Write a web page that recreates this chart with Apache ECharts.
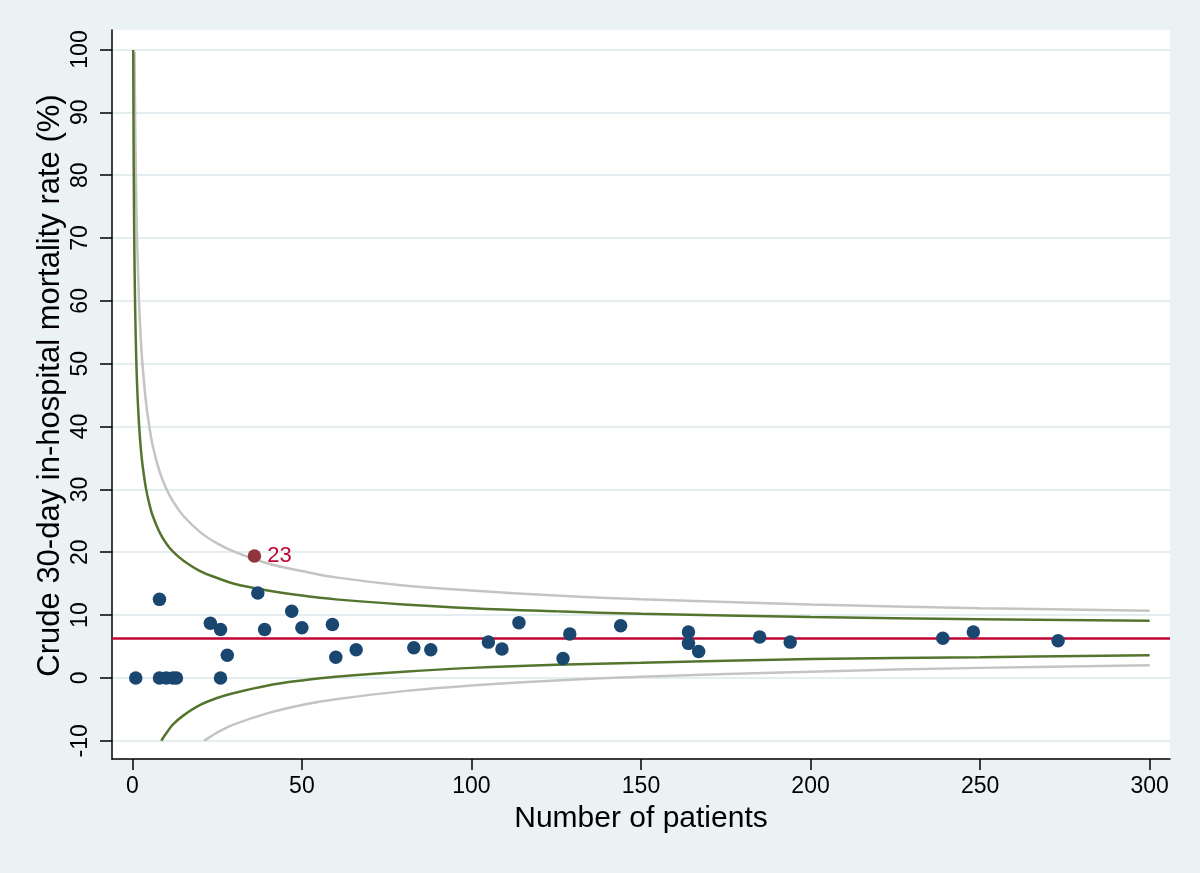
<!DOCTYPE html>
<html><head><meta charset="utf-8">
<script src="https://cdn.jsdelivr.net/npm/echarts@6/dist/echarts.min.js"></script>
<style>html,body{margin:0;padding:0;background:#eaf2f3;} #c{width:1200px;height:873px;}</style>
</head><body><div id="c"></div>
<script>
// ---- data ----
const xTicks = [0, 50, 100, 150, 200, 250, 300];
const yTicks = [-10, 0, 10, 20, 30, 40, 50, 60, 70, 80, 90, 100];
const xTitle = 'Number of patients';
const yTitle = 'Crude 30-day in-hospital mortality rate (%)';

const hospitalPatients = [1, 8, 10, 12, 13, 8, 23, 26, 26, 28, 37, 39, 47, 50, 59, 60, 66, 83, 88,
  105, 109, 114, 127, 129, 144, 164, 164, 167, 185, 194, 239, 248, 273];
const hospitalRates = [0, 0, 0, 0, 0, 12.5, 8.7, 7.7, 0, 3.6, 13.5, 7.7, 10.6, 8.0, 8.5, 3.3, 4.5, 4.8, 4.5,
  5.7, 4.6, 8.8, 3.1, 7.0, 8.3, 7.3, 5.5, 4.2, 6.5, 5.7, 6.3, 7.3, 5.9];

const outlierPatients = [36];
const outlierRates = [19.4];
const outlierLabels = ['23'];

const meanRate = 6.33;

const limit95Upper = [[0.26, 99.9], [0.3, 93.5], [0.35, 87.0], [0.4, 81.8], [0.5, 73.8], [0.6, 67.9],
  [0.75, 61.4], [1, 54.1], [1.25, 49.0], [1.5, 45.3], [2, 40.1], [2.5, 36.5], [3, 33.9], [4, 30.2],
  [5, 27.7], [6, 25.8], [8, 23.2], [10, 21.4], [12, 20.1], [15, 18.7], [20, 17.0], [25, 15.9],
  [30, 15.0], [40, 13.9], [50, 13.1], [60, 12.5], [80, 11.7], [100, 11.1], [125, 10.6], [150, 10.2],
  [200, 9.7], [250, 9.35], [300, 9.1]];
const limit95Lower = [[8.54, -10.0], [8.7, -9.85], [9, -9.6], [10, -8.8], [12, -7.4], [15, -6.0],
  [20, -4.3], [25, -3.2], [30, -2.4], [40, -1.2], [50, -0.4], [60, 0.2], [80, 1.0], [100, 1.6],
  [125, 2.1], [150, 2.4], [200, 3.0], [250, 3.3], [300, 3.6]];
const limit998Upper = [[0.65, 99.6], [0.7, 96.3], [0.8, 90.5], [0.9, 85.6], [1, 81.6], [1.25, 73.6],
  [1.5, 67.8], [2, 59.5], [2.5, 53.9], [3, 49.8], [4, 44.0], [5, 40.0], [6, 37.0], [8, 32.9],
  [10, 30.1], [12, 28.1], [15, 25.8], [20, 23.2], [25, 21.4], [30, 20.1], [40, 18.2], [50, 17.0],
  [60, 16.0], [80, 14.7], [100, 13.9], [125, 13.1], [150, 12.5], [200, 11.7], [250, 11.1], [300, 10.7]];
const limit998Lower = [[21.2, -10.0], [22, -9.7], [25, -8.7], [30, -7.4], [40, -5.6], [50, -4.3],
  [60, -3.4], [80, -2.1], [100, -1.2], [125, -0.4], [150, 0.2], [200, 1.0], [250, 1.6], [300, 2.0]];

// ---- chart ----
const FONT = 'Liberation Sans, Arial, Helvetica, sans-serif';
const chart = echarts.init(document.getElementById('c'), null, {renderer: 'canvas'});

const lineSeries = (data, color, z) => ({
  type: 'line', data, showSymbol: false, symbol: 'none', smooth: 0.4,
  lineStyle: {color, width: 2.5}, silent: true, z, animation: false
});

chart.setOption({
  animation: false,
  backgroundColor: '#eaf2f3',
  grid: {left: 112, right: 30, top: 30, bottom: 114, show: true, backgroundColor: '#ffffff',
         borderWidth: 0, containLabel: false, outerBoundsMode: 'none'},
  xAxis: {
    type: 'value', min: -6, max: 306,
    name: xTitle, nameLocation: 'middle', nameGap: 45, nameMoveOverlap: false,
    nameTextStyle: {fontFamily: FONT, fontSize: 30, color: '#000'},
    axisLine: {show: true, onZero: false, lineStyle: {color: '#000', width: 1.5}},
    axisTick: {show: true, length: 11, customValues: xTicks, lineStyle: {color: '#000', width: 1.5}},
    axisLabel: {customValues: xTicks, fontFamily: FONT, fontSize: 23, color: '#000', margin: 16,
                showMinLabel: true, showMaxLabel: true},
    splitLine: {show: false}
  },
  yAxis: {
    type: 'value', min: -12.9, max: 103.1,
    name: yTitle, nameLocation: 'middle', nameGap: 46, nameRotate: 90, nameMoveOverlap: false,
    nameTextStyle: {fontFamily: FONT, fontSize: 31, color: '#000', padding: [0, 0, 0, 18]},
    axisLine: {show: true, onZero: false, lineStyle: {color: '#000', width: 1.5}},
    axisTick: {show: true, length: 12, customValues: yTicks, lineStyle: {color: '#000', width: 1.5}},
    axisLabel: {customValues: yTicks, rotate: 90, fontFamily: FONT, fontSize: 23, color: '#000', margin: 20,
                showMinLabel: true, showMaxLabel: true},
    splitLine: {show: true, lineStyle: {color: '#e4edf0', width: 2}}
  },
  series: [
    lineSeries(limit998Upper, '#c4c4c4', 2),
    lineSeries(limit998Lower, '#c4c4c4', 2),
    lineSeries(limit95Upper, '#55752f', 3),
    lineSeries(limit95Lower, '#55752f', 3),
    {
      type: 'scatter', z: 5, silent: true,
      data: hospitalPatients.map((n, i) => [n, hospitalRates[i]]),
      symbol: 'circle', symbolSize: 13.5, itemStyle: {color: '#1a476f', opacity: 1},
      markLine: {
        silent: true, symbol: ['none', 'none'], label: {show: false}, z: 4,
        lineStyle: {color: '#c10534', width: 2.5, type: 'solid'},
        data: [{yAxis: meanRate}]
      }
    },
    {
      type: 'scatter', z: 6, silent: true,
      data: outlierPatients.map((n, i) => ({value: [n, outlierRates[i]], name: outlierLabels[i]})),
      symbol: 'circle', symbolSize: 13.5, itemStyle: {color: '#90353b', opacity: 1},
      label: {show: true, position: 'right', distance: 6, formatter: p => p.name,
              fontFamily: FONT, fontSize: 22, color: '#c10534'}
    }
  ]
});
</script></body></html>
